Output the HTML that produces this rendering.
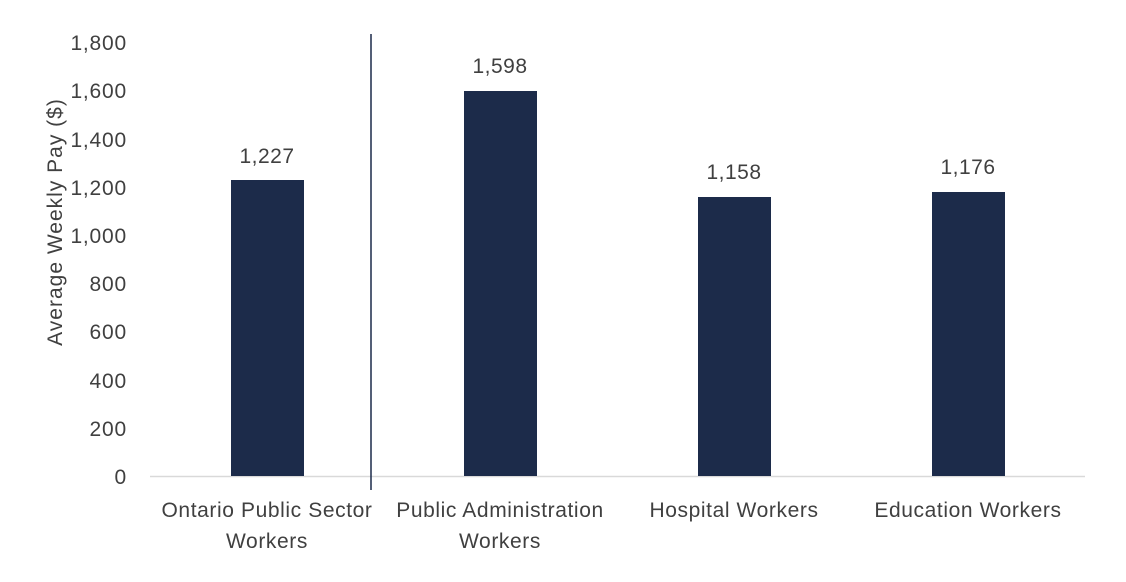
<!DOCTYPE html>
<html><head><meta charset="utf-8"><style>
body{margin:0;background:#fff;}
svg text{font-family:"Liberation Sans",sans-serif;fill:#404040;}
</style></head><body>
<svg width="1126" height="577" xmlns="http://www.w3.org/2000/svg">
<g font-size="21" text-anchor="end" letter-spacing="0.8">
<text x="127" y="484">0</text>
<text x="127" y="436">200</text>
<text x="127" y="388">400</text>
<text x="127" y="339">600</text>
<text x="127" y="291">800</text>
<text x="127" y="243">1,000</text>
<text x="127" y="195">1,200</text>
<text x="127" y="147">1,400</text>
<text x="127" y="98">1,600</text>
<text x="127" y="50">1,800</text>
</g>
<text font-size="21" text-anchor="middle" letter-spacing="1" transform="translate(62,222) rotate(-90)">Average Weekly Pay ($)</text>
<line x1="150" y1="476.5" x2="1085" y2="476.5" stroke="#d9d9d9" stroke-width="1.5"/>
<line x1="371" y1="34" x2="371" y2="490" stroke="#1b2a4a" stroke-width="1.5"/>
<g fill="#1c2b4a">
<rect x="231" y="180" width="73" height="296"/>
<rect x="464" y="91" width="73" height="385"/>
<rect x="698" y="197" width="73" height="279"/>
<rect x="932" y="192" width="73" height="284"/>
</g>
<g font-size="21" text-anchor="middle" letter-spacing="0.5">
<text x="267" y="163">1,227</text>
<text x="500" y="73">1,598</text>
<text x="734" y="179">1,158</text>
<text x="968" y="174">1,176</text>
</g>
<g font-size="21" text-anchor="middle" letter-spacing="0.6">
<text x="267" y="517">Ontario Public Sector</text>
<text x="267" y="548">Workers</text>
<text x="500" y="517">Public Administration</text>
<text x="500" y="548">Workers</text>
<text x="734" y="517">Hospital Workers</text>
<text x="968" y="517">Education Workers</text>
</g>
</svg>
</body></html>
